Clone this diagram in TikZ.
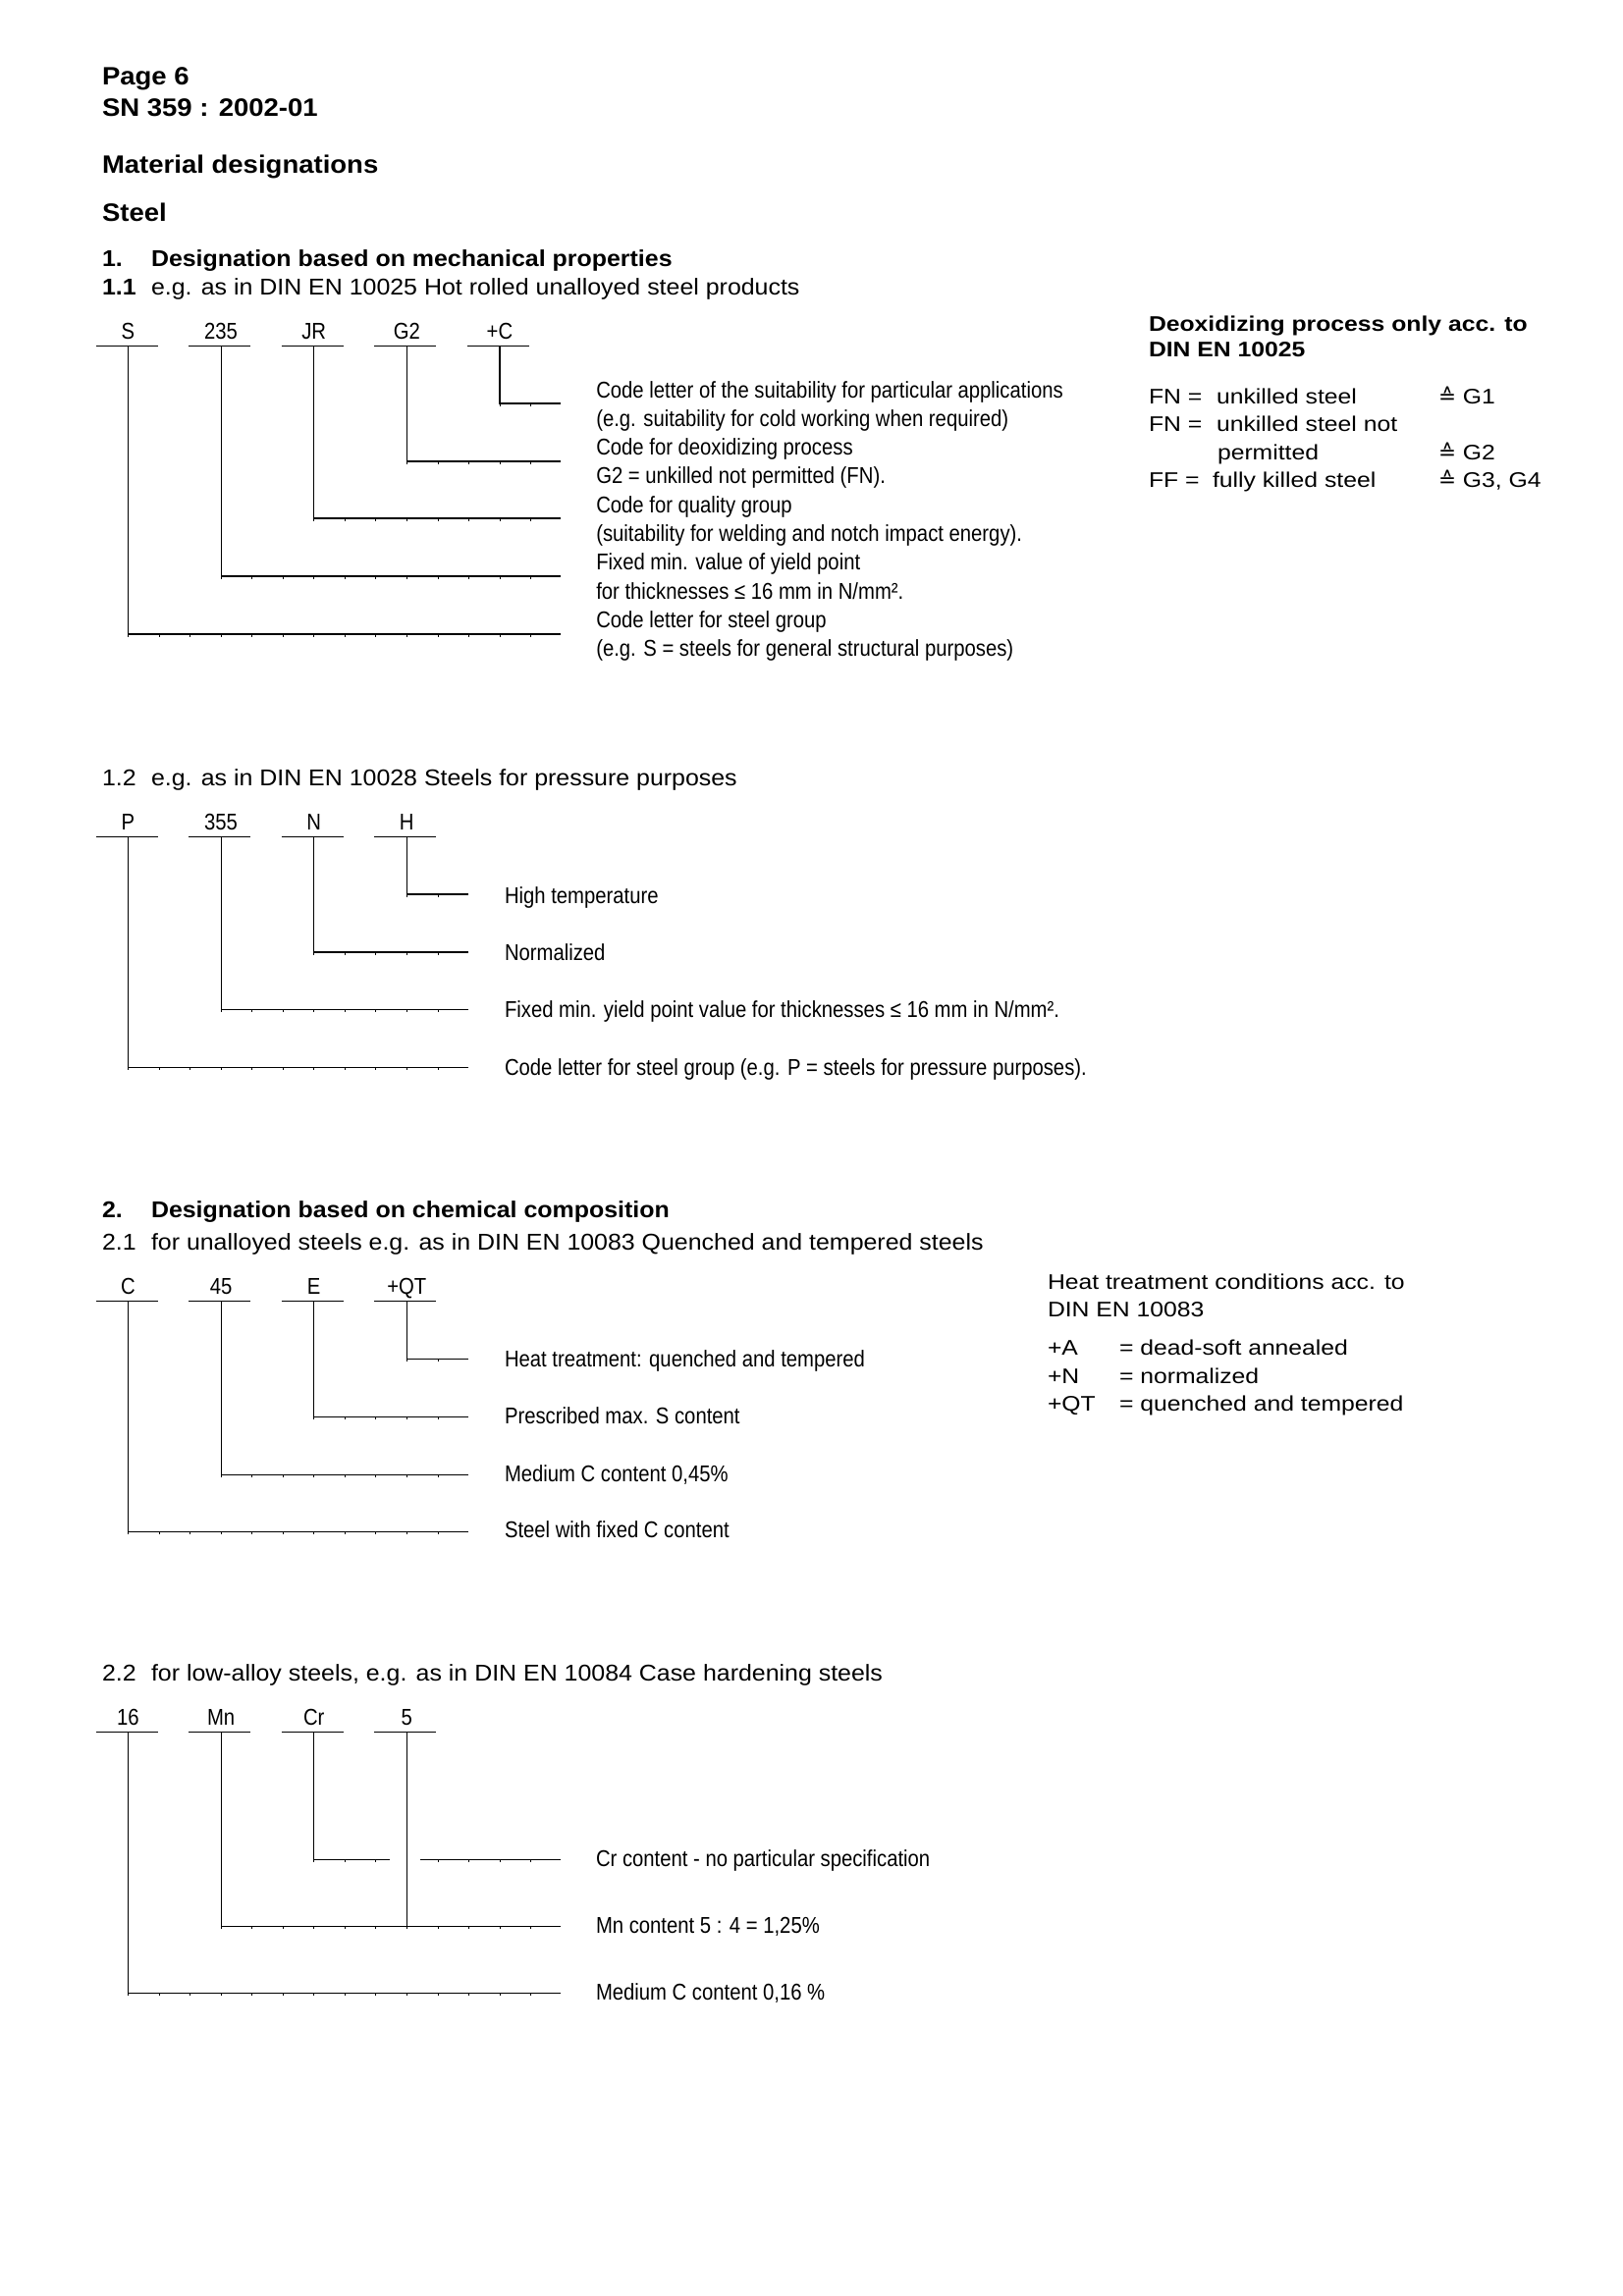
\documentclass[tikz,border=0pt]{standalone}
\usepackage{fontspec}
\setmainfont{Liberation Sans}
\newfontfamily\bigfont[FakeStretch=1.075]{Liberation Sans}
\newfontfamily\headfont[FakeStretch=1.07]{Liberation Sans}
\newfontfamily\boxfont[FakeStretch=1.15]{Liberation Sans}
\newfontfamily\labfont[FakeStretch=0.87]{Liberation Sans}
\newfontfamily\symfont{DejaVu Sans}
\newcommand\codeitem[4]{%
  \node[code] (#1) at (#2,#3) {#4};
  \coordinate (#1u) at (#2,#3+7.5);
  \draw[rule] (#1u) ++(-33,0) -- ++(63,0);
}
\newcommand\tickrow[3]{%
  \begin{scope}
    \clip (#2-1,#1-6) rectangle (#3-1,#1+6);
    \foreach \k in {0,...,14} \draw[tick] ({130.5+31.55*\k},#1) -- ++(0,2.5);
  \end{scope}}
\newcommand\eqsym{{\symfont\fontsize{10.75}{13}\selectfont ≙}}
\begin{document}
\begin{tikzpicture}[x=0.5pt,y=-0.5pt,
  txt/.style={anchor=base west,inner sep=0pt,outer sep=0pt},
  big/.style={txt,font=\bigfont\bfseries\fontsize{12.8}{15}\selectfont},
  headb/.style={txt,font=\headfont\bfseries\fontsize{11.65}{14}\selectfont},
  head/.style={txt,font=\headfont\fontsize{11.65}{14}\selectfont},
  boxt/.style={txt,font=\boxfont\fontsize{10.75}{13}\selectfont},
  boxb/.style={txt,font=\boxfont\bfseries\fontsize{10.75}{13}\selectfont},
  lab/.style={txt,font=\labfont\fontsize{11.65}{14}\selectfont},
  code/.style={anchor=base,inner sep=0pt,outer sep=0pt,font=\labfont\fontsize{11.65}{14}\selectfont},
  rule/.style={line width=0.6pt},
  conn/.style={line width=0.6pt},
  tick/.style={line width=0.5pt}]
\fill[white] (0,0) rectangle (1653,2339);
\useasboundingbox (0,0) rectangle (1653,2339);

% ---------- header ----------
\node[big] (pg) at (104,86.7) {Page 6};
\node[big] (sn) at (104,118.3) {SN 359 : 2002-01};
\node[big] (md) at (104,176.7) {Material designations};
\node[big] (st) at (104,225.7) {Steel};
\node[headb] (h1n) at (104,271.7) {1.};
\node[headb] (h1) at (154,271.7) {Designation based on mechanical properties};
\node[headb] (h11n) at (104,300) {1.1};
\node[head] (h11) at (154,300) {e.g. as in DIN EN 10025 Hot rolled unalloyed steel products};

% ---------- 1.1 ----------
\codeitem{cS}{130.5}{345}{S}
\codeitem{cA}{225.1}{345}{235}
\codeitem{cJR}{319.7}{345}{JR}
\codeitem{cG}{414.3}{345}{G2}
\codeitem{cC}{508.9}{345}{+C}
\coordinate (eC) at (571,411);
\coordinate (eG) at (571,470);
\coordinate (eJR) at (571,528);
\coordinate (eA) at (571,587);
\coordinate (eS) at (571,646);
\draw[conn] (cCu) |- (eC);
\draw[conn] (cGu) |- (eG);
\draw[conn] (cJRu) |- (eJR);
\draw[conn] (cAu) |- (eA);
\draw[conn] (cSu) |- (eS);
\tickrow{411}{508.9}{571}
\tickrow{470}{414.3}{571}
\tickrow{528}{319.7}{571}
\tickrow{587}{225.1}{571}
\tickrow{646}{130.5}{571}
\node[lab] (l1) at (607.3,405) {Code letter of the suitability for particular applications};
\node[lab] (l2) at (607.3,434.3) {(e.g. suitability for cold working when required)};
\node[lab] (l3) at (607.3,463.6) {Code for deoxidizing process};
\node[lab] (l4) at (607.3,492.9) {G2 = unkilled not permitted (FN).};
\node[lab] (l5) at (607.3,522.2) {Code for quality group};
\node[lab] (l6) at (607.3,551.5) {(suitability for welding and notch impact energy).};
\node[lab] (l7) at (607.3,580.8) {Fixed min. value of yield point};
\node[lab] (l8) at (607.3,610.1) {for thicknesses ≤ 16 mm in N/mm².};
\node[lab] (l9) at (607.3,639.4) {Code letter for steel group};
\node[lab] (l10) at (607.3,668.7) {(e.g. S = steels for general structural purposes)};

% right box 1
\node[boxb] (d1) at (1170,337.7) {Deoxidizing process only acc. to};
\node[boxb] (d2) at (1170,363.3) {DIN EN 10025};
\node[boxt] (d3a) at (1170,411) {FN =};
\node[boxt] (d3b) at (1239,411) {unkilled steel};
\node[boxt] (d3c) at (1465,411) {\eqsym\ G1};
\node[boxt] (d4a) at (1170,439.5) {FN =};
\node[boxt] (d4b) at (1239,439.5) {unkilled steel not};
\node[boxt] (d5b) at (1240,468) {permitted};
\node[boxt] (d5c) at (1465,468) {\eqsym\ G2};
\node[boxt] (d6a) at (1170,496.5) {FF =};
\node[boxt] (d6b) at (1235,496.5) {fully killed steel};
\node[boxt] (d6c) at (1465,496.5) {\eqsym\ G3, G4};

% ---------- 1.2 ----------
\node[head] (h12n) at (104,800.7) {1.2};
\node[head] (h12) at (154,800.7) {e.g. as in DIN EN 10028 Steels for pressure purposes};
\codeitem{pP}{130.5}{845}{P}
\codeitem{pA}{225.1}{845}{355}
\codeitem{pN}{319.7}{845}{N}
\codeitem{pH}{414.3}{845}{H}
\coordinate (fH) at (476.5,911);
\coordinate (fN) at (476.5,970);
\coordinate (fA) at (476.5,1028.3);
\coordinate (fP) at (476.5,1087.3);
\draw[conn] (pHu) |- (fH);
\draw[conn] (pNu) |- (fN);
\draw[conn] (pAu) |- (fA);
\draw[conn] (pPu) |- (fP);
\tickrow{911}{414.3}{477}
\tickrow{970}{319.7}{477}
\tickrow{1028.3}{225.1}{477}
\tickrow{1087.3}{130.5}{477}
\node[lab] (m1) at (514,920.7) {High temperature};
\node[lab] (m2) at (514,978.3) {Normalized};
\node[lab] (m3) at (514,1036.7) {Fixed min. yield point value for thicknesses ≤ 16 mm in N/mm².};
\node[lab] (m4) at (514,1095) {Code letter for steel group (e.g. P = steels for pressure purposes).};

% ---------- 2 / 2.1 ----------
\node[headb] (h2n) at (104,1240) {2.};
\node[headb] (h2) at (154,1240) {Designation based on chemical composition};
\node[head] (h21n) at (104,1273.3) {2.1};
\node[head] (h21) at (154,1273.3) {for unalloyed steels e.g. as in DIN EN 10083 Quenched and tempered steels};
\codeitem{qC}{130.5}{1318}{C}
\codeitem{qA}{225.1}{1318}{45}
\codeitem{qE}{319.7}{1318}{E}
\codeitem{qQ}{414.3}{1318}{+QT}
\coordinate (gQ) at (477,1384.3);
\coordinate (gE) at (477,1443.3);
\coordinate (gA) at (477,1502.3);
\coordinate (gC) at (477,1560.7);
\draw[conn] (qQu) |- (gQ);
\draw[conn] (qEu) |- (gE);
\draw[conn] (qAu) |- (gA);
\draw[conn] (qCu) |- (gC);
\tickrow{1384.3}{414.3}{477}
\tickrow{1443.3}{319.7}{477}
\tickrow{1502.3}{225.1}{477}
\tickrow{1560.7}{130.5}{477}
\node[lab] (n1) at (514,1392.7) {Heat treatment: quenched and tempered};
\node[lab] (n2) at (514,1450.7) {Prescribed max. S content};
\node[lab] (n3) at (514,1509.3) {Medium C content 0,45\%};
\node[lab] (n4) at (514,1566.7) {Steel with fixed C content};

% right box 2
\node[boxt] (k1) at (1067,1313.3) {Heat treatment conditions acc. to};
\node[boxt] (k2) at (1067,1341.7) {DIN EN 10083};
\node[boxt] (k3a) at (1067,1380) {+A};
\node[boxt] (k3b) at (1140,1380) {= dead-soft annealed};
\node[boxt] (k4a) at (1067,1409) {+N};
\node[boxt] (k4b) at (1140,1409) {= normalized};
\node[boxt] (k5a) at (1067,1437.5) {+QT};
\node[boxt] (k5b) at (1140,1437.5) {= quenched and tempered};

% ---------- 2.2 ----------
\node[head] (h22n) at (104,1712.7) {2.2};
\node[head] (h22) at (154,1712.7) {for low-alloy steels, e.g. as in DIN EN 10084 Case hardening steels};
\codeitem{r16}{130.5}{1757}{16}
\codeitem{rMn}{225.1}{1757}{Mn}
\codeitem{rCr}{319.7}{1757}{Cr}
\codeitem{rF}{414.3}{1757}{5}
\coordinate (sCr) at (396.7,1894.3);
\coordinate (sCr2) at (428.3,1894.3);
\coordinate (sCr3) at (570.7,1894.3);
\coordinate (sF) at (414.3,1962.7);
\coordinate (sMn) at (570.7,1962.7);
\coordinate (s16) at (570.7,2030.7);
\draw[conn] (rCru) |- (sCr);
\draw[conn] (sCr2) -- (sCr3);
\draw[conn] (rFu) -- (sF);
\draw[conn] (rMnu) |- (sMn);
\draw[conn] (r16u) |- (s16);
\tickrow{1894.3}{319.7}{397}
\tickrow{1894.3}{428.3}{571}
\tickrow{1962.7}{225.1}{571}
\tickrow{2030.7}{130.5}{571}
\node[lab] (o1) at (607,1901.7) {Cr content - no particular specification};
\node[lab] (o2) at (607,1969.3) {Mn content 5 : 4 = 1,25\%};
\node[lab] (o3) at (607,2037.7) {Medium C content 0,16 \%};
\end{tikzpicture}
\end{document}
